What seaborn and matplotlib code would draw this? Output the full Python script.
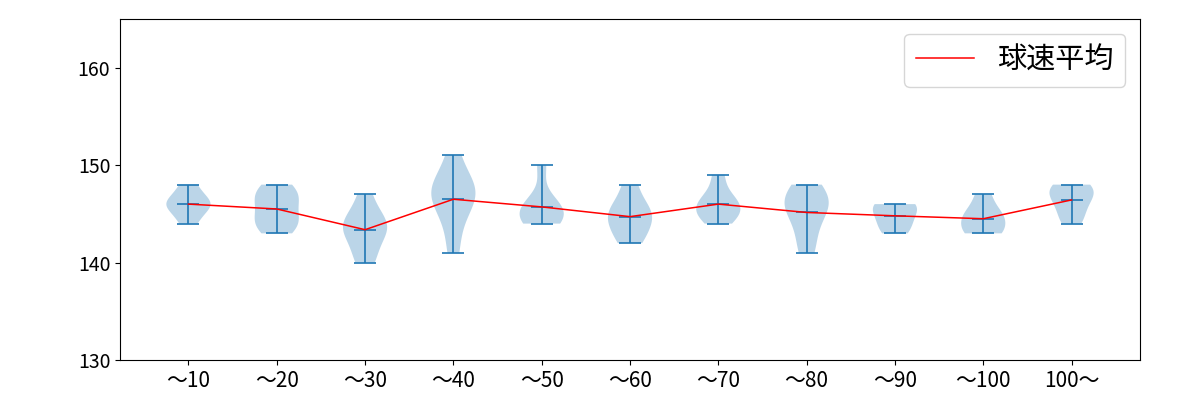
import matplotlib
matplotlib.use("Agg")
import matplotlib.pyplot as plt
import seaborn as sns
import numpy as np
import pandas as pd

plt.rcParams['font.family'] = ['Noto Sans CJK JP', 'DejaVu Sans']

categories = ["〜10", "〜20", "〜30", "〜40", "〜50", "〜60", "〜70", "〜80", "〜90", "〜100", "100〜"]

g10 = [144, 145, 146, 146, 146, 147, 148]
g20 = [143, 144, 144, 145, 146, 147, 147, 148]
g30 = [140, 141, 143, 143, 144, 144, 145, 147]
g40 = [141, 144, 146, 147, 147, 148, 148, 151]
g50 = [144, 144, 145, 145, 146, 146, 150]
g60 = [142, 143, 144, 145, 145, 146, 148]
g70 = [144, 145, 145, 146, 146, 147, 149]
g80 = [141, 143, 145, 146, 146, 147, 148]
g90 = [143, 144, 145, 146, 146]
g100 = [143, 143, 144, 145, 145, 147]
g100p = [144, 145, 146, 147, 147, 148, 148]

groups = [g10, g20, g30, g40, g50, g60, g70, g80, g90, g100, g100p]
legend_label = "球速平均"

fig, ax = plt.subplots(figsize=(12, 4), dpi=100)
fig.subplots_adjust(left=0.1, right=0.95, bottom=0.1, top=0.9525)

positions = np.arange(1, len(groups) + 1)
parts = ax.violinplot(groups, positions=positions, showmeans=True)
for key in ("cmeans", "cmins", "cmaxes", "cbars"):
    parts[key].set_linewidth(1.2)

means = [float(np.mean(g)) for g in groups]
df = pd.DataFrame({"pos": positions, "mean": means})
sns.lineplot(data=df, x="pos", y="mean", color="red", linewidth=1.1, label=legend_label, ax=ax)

ax.set_xticks(positions)
ax.set_xticklabels(categories, fontsize=15)
ax.tick_params(axis='y', labelsize=14)
ax.set_ylim(130, 165)
ax.set_yticks([130, 140, 150, 160])
ax.set_xlabel("")
ax.set_ylabel("")
ax.legend(loc="upper right", fontsize=21)

fig.savefig("out.png", dpi=100)
